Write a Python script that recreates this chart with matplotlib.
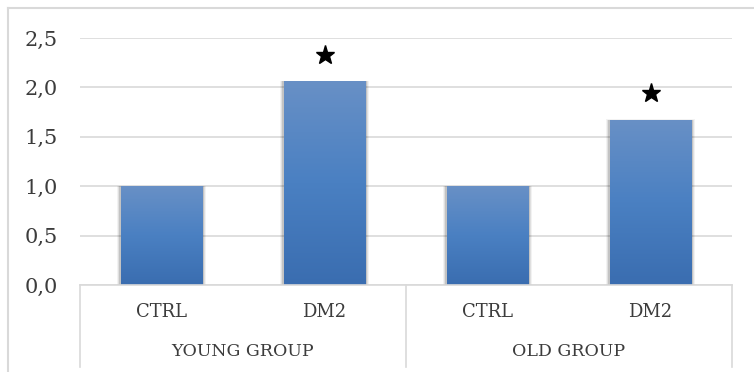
import numpy as np
import matplotlib
matplotlib.use("Agg")
import matplotlib.pyplot as plt
from matplotlib.patches import Rectangle
from matplotlib.colors import LinearSegmentedColormap
from matplotlib.lines import Line2D

# Data
groups = ["YOUNG GROUP", "OLD GROUP"]
conditions = ["CTRL", "DM2", "CTRL", "DM2"]
values = [1.0, 2.06, 1.0, 1.67]
significant = [False, True, False, True]
y_ticks = [0.0, 0.5, 1.0, 1.5, 2.0, 2.5]
y_tick_labels = ["0,0", "0,5", "1,0", "1,5", "2,0", "2,5"]

W, H = 754, 372
fig = plt.figure(figsize=(W / 100, H / 100), dpi=100)
fig.patch.set_facecolor("white")

ax_left, ax_right = 80 / W, 732 / W
ax_bottom = (H - 285) / H
ax_top = (H - 38) / H
ax = fig.add_axes([ax_left, ax_bottom, ax_right - ax_left, ax_top - ax_bottom])

text_color = "#3c3c3c"
grid_color = "#d9d9d9"
serif = ["DejaVu Serif"]

n = len(values)
x = np.arange(n)
bar_w = 0.5
ax.set_xlim(-0.5, n - 0.5)
ax.set_ylim(0, 2.5)

# gridlines
for t in y_ticks:
    ax.axhline(t, color=grid_color, lw=1.2, zorder=0)

grad = LinearSegmentedColormap.from_list("bar", ["#3a6db0", "#4a80c2", "#6890c6"])
gimg = np.linspace(0, 1, 256).reshape(-1, 1)

for xi, v, sig in zip(x, values, significant):
    # soft shadow
    for k, a in zip([0.04, 0.028, 0.016], [0.05, 0.08, 0.12]):
        ax.add_patch(Rectangle((xi - bar_w / 2 - k * 0.5, 0), bar_w + k, v + k * 0.15,
                               facecolor="#000000", alpha=a, edgecolor="none", zorder=1))
    bar = ax.bar(xi, v, width=bar_w, color="#4a7ebf", zorder=2)[0]
    im = ax.imshow(gimg, cmap=grad, aspect="auto", origin="lower",
                   extent=(xi - bar_w / 2, xi + bar_w / 2, 0, v), zorder=3)
    im.set_clip_path(bar)
    if sig:
        ax.plot(xi, v + 0.27, marker="*", color="black", markersize=14, zorder=4)

ax.set_xlim(-0.5, n - 0.5)
ax.set_ylim(0, 2.5)

for s in ax.spines.values():
    s.set_visible(False)
ax.set_xticks([])
ax.set_yticks(y_ticks)
ax.set_yticklabels(y_tick_labels, fontsize=15, color=text_color, family=serif)
ax.tick_params(axis="y", length=0, pad=16)

# category axis lines
line_kw = dict(color=grid_color, lw=1.2, transform=fig.transFigure)
fig.add_artist(Line2D([ax_left, ax_right], [ax_bottom, ax_bottom], **line_kw))
for xp in [80, 406, 732]:
    fig.add_artist(Line2D([xp / W, xp / W], [ax_bottom, (H - 367) / H], **line_kw))

# condition labels
for xi, c in zip(x, conditions):
    xf = ax_left + (xi + 0.5) / n * (ax_right - ax_left)
    fig.text(xf, (H - 312) / H, c, ha="center", va="center", fontsize=13,
             color=text_color, family=serif)

# group labels
for gi, g in enumerate(groups):
    xf = ax_left + (gi * 2 + 1) / n * (ax_right - ax_left)
    fig.text(xf, (H - 352) / H, g, ha="center", va="center", fontsize=12.5,
             color=text_color, family=serif)

# outer chart frame
frame_kw = dict(color="#d9d9d9", lw=1.5, transform=fig.transFigure)
fig.add_artist(Line2D([8 / W, 8 / W], [0, (H - 8) / H], **frame_kw))
fig.add_artist(Line2D([8 / W, 1], [(H - 8) / H, (H - 8) / H], **frame_kw))

fig.savefig("out.png", dpi=100)
